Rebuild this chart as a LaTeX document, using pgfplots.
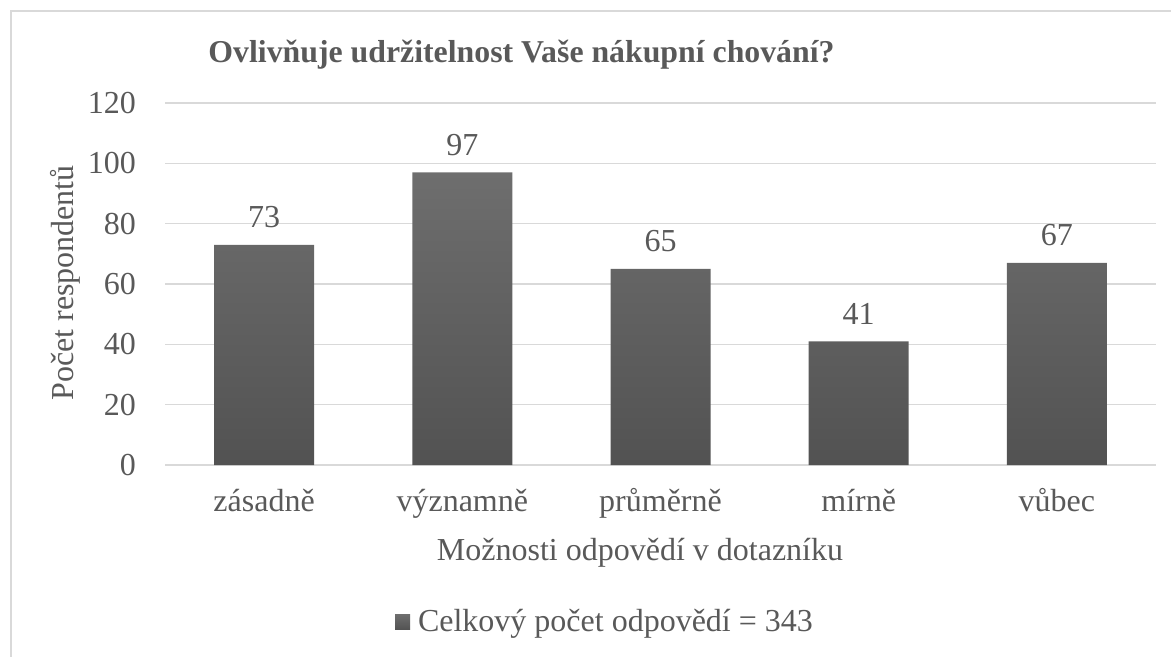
\documentclass[border=0pt]{standalone}
\usepackage{pgfplots}
\pgfplotsset{compat=1.18}
\usepackage{fontspec}
\setmainfont{Liberation Serif}

\definecolor{txt}{HTML}{595959}
\definecolor{gridc}{HTML}{D9D9D9}
\definecolor{bartop}{HTML}{6E6E6E}
\definecolor{barbot}{HTML}{525252}

\begin{document}
\begin{tikzpicture}
\useasboundingbox (0pt,0pt) rectangle (585.5pt,-328.5pt);
% outer frame (cropped on the right and bottom)
\draw[gridc, line width=0.8pt] (5.5pt,-328.5pt) -- (5.5pt,-5.5pt) -- (585.5pt,-5.5pt);

\begin{axis}[
  at={(82.5pt,-232.5pt)}, anchor=south west,
  scale only axis,
  width=495.5pt, height=181pt,
  ybar, bar width=50pt,
  xmin=-0.5, xmax=4.5,
  ymin=0, ymax=120,
  ytick={0,20,...,120},
  xtick=data,
  xticklabels={zásadně,významně,průměrně,mírně,vůbec},
  ymajorgrids,
  grid style={gridc, line width=0.8pt},
  axis x line*=bottom,
  axis y line*=left,
  y axis line style={draw=none},
  x axis line style={gridc, line width=0.8pt, -},
  major tick length=0pt,
  tick style={draw=none},
  /pgf/number format/assume math mode=true,
  tick label style={font=\fontsize{16}{19}\selectfont, text=txt},
  xticklabel style={anchor=base, yshift=-23pt},
  yticklabel style={anchor=east, xshift=-11pt},
  nodes near coords,
  nodes near coords style={font=\fontsize{16}{19}\selectfont, text=txt, anchor=south, yshift=5pt},
  legend style={at={(0.447,-0.434)}, anchor=center, draw=none, fill=none,
    font=\fontsize{16}{19}\selectfont, text=txt, inner sep=0pt,
    nodes={inner xsep=4pt}},
  legend image code/.code={\fill[top color=bartop, bottom color=barbot] (0pt,-3.8pt) rectangle (7.5pt,3.8pt);},
]
\addplot[draw=none, top color=bartop, bottom color=barbot] coordinates {
(0,73) (1,97) (2,65) (3,41) (4,67)
};
\addlegendentry{Celkový počet odpovědí = 343}
\end{axis}

\node[text=txt, font=\bfseries\fontsize{15.9}{18}\selectfont] at (260.75pt,-27.5pt) {Ovlivňuje udržitelnost Vaše nákupní chování?};
\node[text=txt, font=\fontsize{16}{19}\selectfont, rotate=90] at (32.5pt,-141.5pt) {Počet respondentů};
\node[text=txt, font=\fontsize{16}{19}\selectfont] at (320pt,-276.5pt) {Možnosti odpovědí v dotazníku};
\end{tikzpicture}
\end{document}
